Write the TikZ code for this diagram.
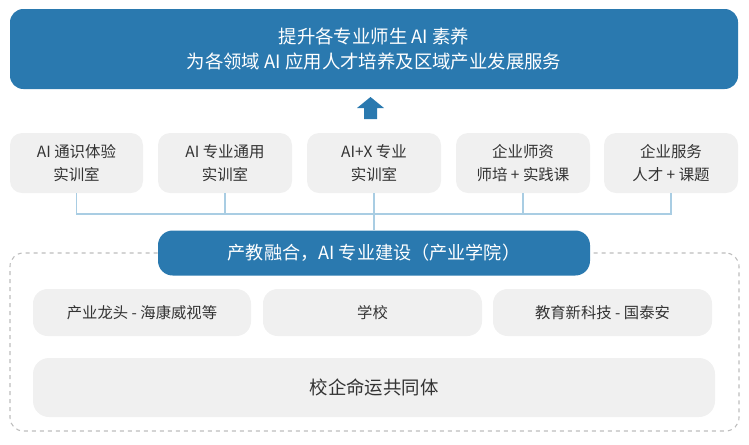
\documentclass[tikz,border=0pt]{standalone}
\usepackage{fontspec}
\setmainfont{Noto Sans CJK SC}
\begin{document}
\begin{tikzpicture}[x=0.75pt,y=-0.75pt,
  bluebox/.style={fill=blueC,draw=none,rounded corners=10pt,text=white,align=center,inner sep=0pt},
  greybox/.style={fill=greyC,draw=none,rounded corners=9pt,text=textC,align=center,inner sep=0pt,font=\fontsize{11.6}{17.5}\selectfont},
  conn/.style={draw=lineC,line width=1.1pt}]
\definecolor{blueC}{HTML}{2A79AF}
\definecolor{greyC}{HTML}{F0F0F0}
\definecolor{textC}{HTML}{333333}
\definecolor{lineC}{HTML}{A9CDE3}
\definecolor{dashC}{HTML}{BDBDBD}
\useasboundingbox (0,0) rectangle (749,444);
% top
\node[bluebox,minimum width=728*0.75pt,minimum height=80*0.75pt,font=\fontsize{13.8}{19}\selectfont] (top) at (374,49) {提升各专业师生 AI 素养\\为各领域 AI 应用人才培养及区域产业发展服务};
% arrow
\fill[blueC] (357,108) -- (370.5,97) -- (384,108) -- (377,108) -- (377,119) -- (364,119) -- (364,108) -- cycle;
% middle row
\node[greybox,minimum width=133*0.75pt,minimum height=60*0.75pt] (b1) at (76.5,163) {AI 通识体验\\实训室};
\node[greybox,minimum width=134*0.75pt,minimum height=60*0.75pt] (b2) at (225,163) {AI 专业通用\\实训室};
\node[greybox,minimum width=134*0.75pt,minimum height=60*0.75pt] (b3) at (374,163) {AI+X 专业\\实训室};
\node[greybox,minimum width=134*0.75pt,minimum height=60*0.75pt] (b4) at (523,163) {企业师资\\师培 + 实践课};
\node[greybox,minimum width=134*0.75pt,minimum height=60*0.75pt] (b5) at (671,163) {企业服务\\人才 + 课题};
\coordinate (bus) at (374,214);
% dashed container
\node[draw=dashC,dashed,line width=0.8pt,rounded corners=10pt,minimum width=729*0.75pt,minimum height=178*0.75pt,inner sep=0pt] (frame) at (374.5,342) {};
% band
\node[bluebox,rounded corners=11pt,minimum width=432*0.75pt,minimum height=45*0.75pt,font=\fontsize{13.6}{16}\selectfont] (band) at (374,253) {产教融合，AI 专业建设（产业学院）};
% connectors
\draw[conn] (b1.south) |- (bus);
\draw[conn] (b2.south) |- (bus);
\draw[conn] (b4.south) |- (bus);
\draw[conn] (b5.south) |- (bus);
\draw[conn] (b3.south) -- (band.north);
% bottom row
\node[greybox,rounded corners=11pt,minimum width=218*0.75pt,minimum height=47*0.75pt,font=\fontsize{11.5}{16}\selectfont] (c1) at (142,312.5) {产业龙头 - 海康威视等};
\node[greybox,rounded corners=11pt,minimum width=219*0.75pt,minimum height=47*0.75pt,font=\fontsize{11.5}{16}\selectfont] (c2) at (372.5,312.5) {学校};
\node[greybox,rounded corners=11pt,minimum width=219*0.75pt,minimum height=47*0.75pt,font=\fontsize{11.5}{16}\selectfont] (c3) at (602.5,312.5) {教育新科技 - 国泰安};
\node[greybox,rounded corners=12pt,minimum width=682*0.75pt,minimum height=59*0.75pt,font=\fontsize{13.8}{16}\selectfont] (d) at (374,387.5) {校企命运共同体};
\end{tikzpicture}
\end{document}
